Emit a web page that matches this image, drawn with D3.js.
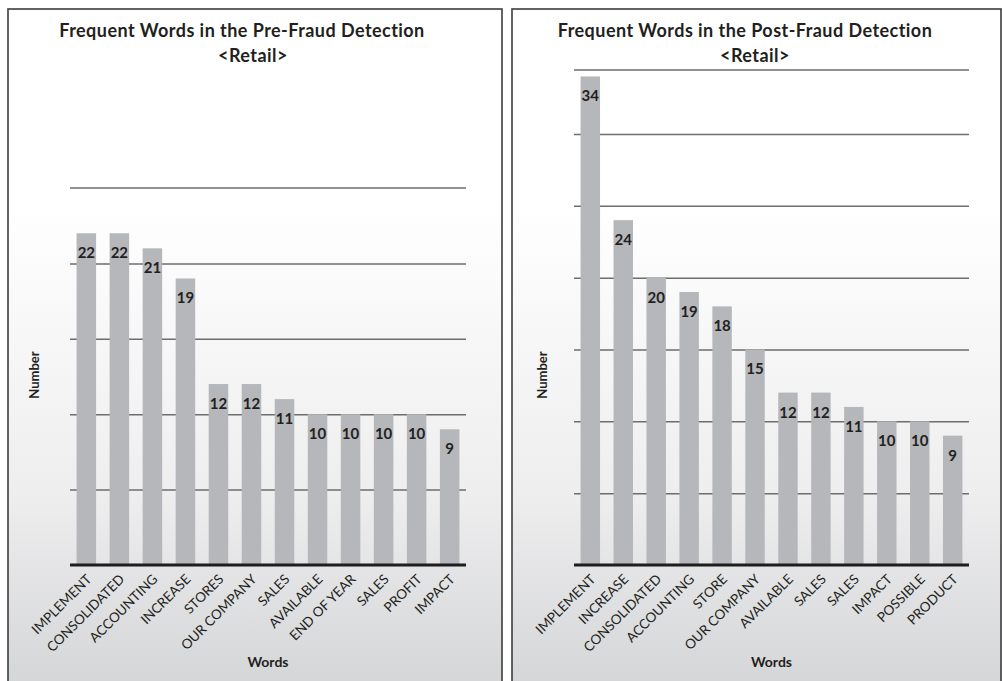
<!DOCTYPE html>
<html>
<head>
<meta charset="utf-8">
<script src="https://cdn.jsdelivr.net/npm/d3@7"></script>
<style>
  html, body { margin: 0; padding: 0; background: #ffffff; }
  svg { display: block; }
  text { font-family: Lato, "Open Sans", "DejaVu Sans", sans-serif; fill: #231f20; }
</style>
</head>
<body>
<svg id="chart" width="1002" height="681"></svg>
<script>
// Word frequencies before fraud detection (retail)
const preWords  = ["IMPLEMENT", "CONSOLIDATED", "ACCOUNTING", "INCREASE", "STORES", "OUR COMPANY",
                   "SALES", "AVAILABLE", "END OF YEAR", "SALES", "PROFIT", "IMPACT"];
const preCounts = [22, 22, 21, 19, 12, 12, 11, 10, 10, 10, 10, 9];

// Word frequencies after fraud detection (retail)
const postWords  = ["IMPLEMENT", "INCREASE", "CONSOLIDATED", "ACCOUNTING", "STORE", "OUR COMPANY",
                    "AVAILABLE", "SALES", "SALES", "IMPACT", "POSSIBLE", "PRODUCT"];
const postCounts = [34, 24, 20, 19, 18, 15, 12, 12, 11, 10, 10, 9];

const titles   = ["Frequent Words in the Pre-Fraud Detection", "Frequent Words in the Post-Fraud Detection"];
const subtitle = "<Retail>";
const gridTicks = [[5, 10, 15, 20], [5, 10, 15, 20, 25, 30]];
const yMax = [25, 34.45];

const svg = d3.select("#chart");
const defs = svg.append("defs");
const grad = defs.append("linearGradient")
  .attr("id", "panelFill").attr("x1", 0).attr("y1", 0).attr("x2", 0).attr("y2", 1);
grad.append("stop").attr("offset", "0%").attr("stop-color", "#ffffff");
grad.append("stop").attr("offset", "28%").attr("stop-color", "#ffffff");
grad.append("stop").attr("offset", "70%").attr("stop-color", "#eeeeef");
grad.append("stop").attr("offset", "100%").attr("stop-color", "#d3d4d6");

const panels = [
  { x0: 8,   x1: 502,  plotL: 70,  plotR: 466, titleX: 242, subX: 253, yLabX: 35,
    words: preWords, counts: preCounts, title: titles[0], ticks: gridTicks[0], top: 188, max: yMax[0] },
  { x0: 512, x1: 1001, plotL: 574, plotR: 969, titleX: 745, subX: 755, yLabX: 543,
    words: postWords, counts: postCounts, title: titles[1], ticks: gridTicks[1], top: 70, max: yMax[1] }
];

const baseY = 565;

panels.forEach(p => {
  const g = svg.append("g");

  // panel background and frame
  g.append("rect")
    .attr("x", p.x0).attr("y", 9)
    .attr("width", p.x1 - p.x0).attr("height", 690)
    .attr("fill", "url(#panelFill)")
    .attr("stroke", "#3d3d3d").attr("stroke-width", 1.6);

  const x = d3.scaleBand()
    .domain(d3.range(p.words.length))
    .range([p.plotL, p.plotR])
    .paddingInner(0.41)
    .paddingOuter(0.2);

  const y = d3.scaleLinear().domain([0, p.max]).range([baseY, p.top]);

  // horizontal gridlines
  const grid = g.append("g")
    .attr("transform", `translate(${p.plotL},0)`)
    .call(d3.axisLeft(y).tickValues(p.ticks).tickSize(-(p.plotR - p.plotL)).tickFormat(""));
  grid.select(".domain").remove();
  grid.selectAll(".tick line").attr("stroke", "#6d6d6d").attr("stroke-width", 1.5);

  // top frame line of the plot area
  g.append("line")
    .attr("x1", p.plotL).attr("x2", p.plotR)
    .attr("y1", y(p.max)).attr("y2", y(p.max))
    .attr("stroke", "#6d6d6d").attr("stroke-width", 1.5);

  // bars
  g.selectAll("rect.bar")
    .data(p.counts)
    .join("rect")
    .attr("class", "bar")
    .attr("x", (d, i) => x(i))
    .attr("width", x.bandwidth())
    .attr("y", d => y(d))
    .attr("height", d => baseY - y(d))
    .attr("fill", "#b6b7bb");

  // value labels inside bar tops
  g.selectAll("text.val")
    .data(p.counts)
    .join("text")
    .attr("class", "val")
    .attr("x", (d, i) => x(i) + x.bandwidth() / 2)
    .attr("y", d => y(d) + 25)
    .attr("text-anchor", "middle")
    .attr("font-size", 15)
    .attr("font-weight", "bold")
    .text(d => d);

  // category axis
  const xAxis = g.append("g")
    .attr("transform", `translate(0,${baseY})`)
    .call(d3.axisBottom(x).tickSize(0).tickFormat(i => p.words[i]));
  xAxis.select(".domain")
    .attr("stroke", "#1d1d1d").attr("stroke-width", 3.2)
    .attr("d", `M${p.plotL},0H${p.plotR}`);
  xAxis.selectAll(".tick text")
    .attr("font-size", 13.5)
    .attr("fill", "#231f20")
    .attr("text-anchor", "end")
    .attr("dy", null)
    .attr("y", 0)
    .attr("transform", "translate(6,15) rotate(-45)");

  // titles
  g.append("text")
    .attr("x", p.titleX).attr("y", 37)
    .attr("text-anchor", "middle")
    .attr("font-size", 18).attr("font-weight", "bold")
    .attr("letter-spacing", 0.45)
    .text(p.title);
  g.append("text")
    .attr("x", p.subX).attr("y", 62)
    .attr("text-anchor", "middle")
    .attr("font-size", 18).attr("font-weight", "bold")
    .attr("letter-spacing", 0.45)
    .text(subtitle);

  // axis titles
  g.append("text")
    .attr("transform", `translate(${p.yLabX + 4},375) rotate(-90)`)
    .attr("text-anchor", "middle")
    .attr("font-size", 13).attr("font-weight", "bold")
    .text("Number");
  g.append("text")
    .attr("x", (p.plotL + p.plotR) / 2).attr("y", 667)
    .attr("text-anchor", "middle")
    .attr("font-size", 14).attr("font-weight", "bold")
    .text("Words");
});
</script>
</body>
</html>
